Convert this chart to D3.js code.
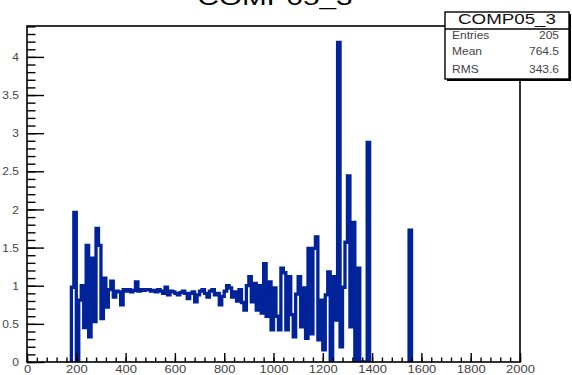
<!DOCTYPE html>
<html><head><meta charset="utf-8">
<script src="https://cdn.jsdelivr.net/npm/d3@7"></script>
<style>
html,body{margin:0;padding:0;background:#fff;}
svg{display:block;font-family:"Liberation Sans",Arial,sans-serif;}
</style></head>
<body>
<svg id="c" width="572" height="375"></svg>
<script>
// ---- data ----
const histTitle = "COMP05_3";
const binWidth = 10;
const binLow = [180,190,200,210,220,230,240,250,260,270,280,290,300,310,320,330,340,350,360,370,
  380,390,400,410,420,430,440,450,460,470,480,490,500,510,520,530,540,550,560,570,
  580,590,600,610,620,630,640,650,660,670,680,690,700,710,720,730,740,750,760,770,
  780,790,800,810,820,830,840,850,860,870,880,890,900,910,920,930,940,950,960,970,
  980,990,1000,1010,1020,1030,1040,1050,1060,1070,1080,1090,1100,1110,1120,1130,1140,1150,1160,1170,
  1180,1190,1200,1210,1220,1230,1240,1250,1260,1270,1280,1290,1300,1310,1320,1330,1340,1350,1360,1370,
  1380,1550];
const binContent = [0.98,1.96,0.0,0.81,1.0,0.45,1.53,0.33,1.36,0.53,1.75,1.53,0.57,1.1,0.72,0.95,1.06,0.85,0.93,0.92,
  0.75,0.95,0.93,0.95,0.92,0.94,1.05,0.93,0.95,0.94,0.95,0.95,0.93,0.94,0.92,0.95,0.93,0.9,0.98,0.88,
  0.93,0.92,0.9,0.88,0.91,0.93,0.9,0.83,0.9,0.92,0.79,0.88,0.93,0.95,0.9,0.85,0.93,0.95,0.88,0.9,
  0.75,0.86,0.93,1.0,0.97,0.85,0.92,0.8,0.95,0.78,0.68,1.0,1.12,0.79,1.03,0.68,1.0,0.64,1.29,0.6,
  1.05,0.42,0.97,0.6,0.42,1.23,1.17,0.42,1.12,0.62,0.33,0.89,1.12,0.46,0.97,0.31,1.49,0.37,1.49,1.64,
  0.29,0.81,0.16,0.88,1.18,0.0,1.12,0.55,4.19,0.2,0.98,1.57,2.44,0.46,1.83,0.0,1.23,0.0,0.0,0.0,
  2.88,1.73];
const xTicks = [0,200,400,600,800,1000,1200,1400,1600,1800,2000];
const yTicks = [0,0.5,1,1.5,2,2.5,3,3.5,4];
const statLabels = ["Entries","Mean","RMS"];
const statValues = ["205","764.5","343.6"];

// ---- layout ----
const fx0 = 27, fx1 = 520, fy0 = 26, fy1 = 362;
const svg = d3.select("#c");
const x = d3.scaleLinear().domain([0,2000]).range([fx0,fx1]);
const y = d3.scaleLinear().domain([0,4.405]).range([fy1,fy0]);
const blue = "#00239a";

svg.append("defs").append("clipPath").attr("id","fr")
  .append("rect").attr("x",fx0).attr("y",fy0).attr("width",fx1-fx0).attr("height",fy1-fy0);

// histogram step line
const p = d3.path();
p.moveTo(x(binLow[0]), y(0));
let prevHigh = binLow[0];
binLow.forEach((lo,i)=>{
  if (lo !== prevHigh) { p.lineTo(x(prevHigh), y(0)); p.moveTo(x(lo), y(0)); }
  p.lineTo(x(lo), y(binContent[i]));
  p.lineTo(x(lo+binWidth), y(binContent[i]));
  prevHigh = lo + binWidth;
});
p.lineTo(x(prevHigh), y(0));
svg.append("path").attr("d", p.toString()).attr("fill","none")
  .attr("stroke",blue).attr("stroke-width",3.3).attr("clip-path","url(#fr)");

// frame
svg.append("rect").attr("x",fx0).attr("y",fy0).attr("width",fx1-fx0).attr("height",fy1-fy0)
  .attr("fill","none").attr("stroke","#000").attr("stroke-width",1.6);

const labelFont = "Liberation Sans, Arial, sans-serif";
// y axis
const yMinor = d3.range(0,4.41,0.1);
svg.append("g").attr("transform",`translate(${fx0},0)`)
  .call(d3.axisLeft(y).tickValues(yMinor).tickSize(-8.5).tickSizeOuter(0).tickFormat(""))
  .call(g=>{g.select(".domain").remove(); g.selectAll("line").attr("stroke","#000").attr("stroke-width",1.4);});
const ya = svg.append("g").attr("transform",`translate(${fx0},0)`)
  .call(d3.axisLeft(y).tickValues(yTicks).tickSize(-17).tickSizeOuter(0).tickFormat(d3.format("")))
  .call(g=>{g.select(".domain").remove(); g.selectAll("line").attr("stroke","#000").attr("stroke-width",1.4);});
ya.selectAll("text").attr("x",null).attr("dy",null)
  .attr("transform","translate(-8,3.6) scale(1.2,1)")
  .attr("font-size",10).attr("fill","#444").attr("font-family",labelFont);

// x axis
const xMinor = d3.range(0,2001,40);
svg.append("g").attr("transform",`translate(0,${fy1})`)
  .call(d3.axisBottom(x).tickValues(xMinor).tickSize(-4.5).tickSizeOuter(0).tickFormat(""))
  .call(g=>{g.select(".domain").remove(); g.selectAll("line").attr("stroke","#000").attr("stroke-width",1.4);});
const xa = svg.append("g").attr("transform",`translate(0,${fy1})`)
  .call(d3.axisBottom(x).tickValues(xTicks).tickSize(-9).tickSizeOuter(0).tickFormat(d3.format("")))
  .call(g=>{g.select(".domain").remove(); g.selectAll("line").attr("stroke","#000").attr("stroke-width",1.4);});
xa.selectAll("text").attr("y",null).attr("dy",null)
  .attr("transform","translate(0,10.5) scale(1.3,1)")
  .attr("font-size",10).attr("fill","#444").attr("font-family",labelFont);

// title (partly above the top edge, as in the reference)
svg.append("text").attr("x",275).attr("y",5).attr("text-anchor","middle")
  .attr("font-size",22).attr("textLength",155).attr("lengthAdjust","spacingAndGlyphs")
  .attr("fill","#000").text(histTitle);

// stat box
const bx = 445, by = 12, bw = 124, bh = 67;
svg.append("rect").attr("x",bx+2).attr("y",by+2).attr("width",bw).attr("height",bh).attr("fill","#000");
svg.append("rect").attr("x",bx).attr("y",by).attr("width",bw).attr("height",bh)
  .attr("fill","#fff").attr("stroke","#000").attr("stroke-width",1.4);
svg.append("line").attr("x1",bx).attr("x2",bx+bw).attr("y1",29).attr("y2",29)
  .attr("stroke","#000").attr("stroke-width",1.4);
svg.append("text").attr("x",bx+bw/2).attr("y",24).attr("text-anchor","middle")
  .attr("font-size",14).attr("textLength",98).attr("lengthAdjust","spacingAndGlyphs")
  .attr("fill","#111").text(histTitle);
const rowY = [39,55,73];
statLabels.forEach((l,i)=>{
  svg.append("text").attr("transform",`translate(452,${rowY[i]}) scale(1.2,1)`)
    .attr("font-size",10).attr("fill","#444").text(l);
  svg.append("text").attr("transform",`translate(559,${rowY[i]}) scale(1.2,1)`)
    .attr("text-anchor","end").attr("font-size",10).attr("fill","#444").text(statValues[i]);
});
</script>
</body></html>
